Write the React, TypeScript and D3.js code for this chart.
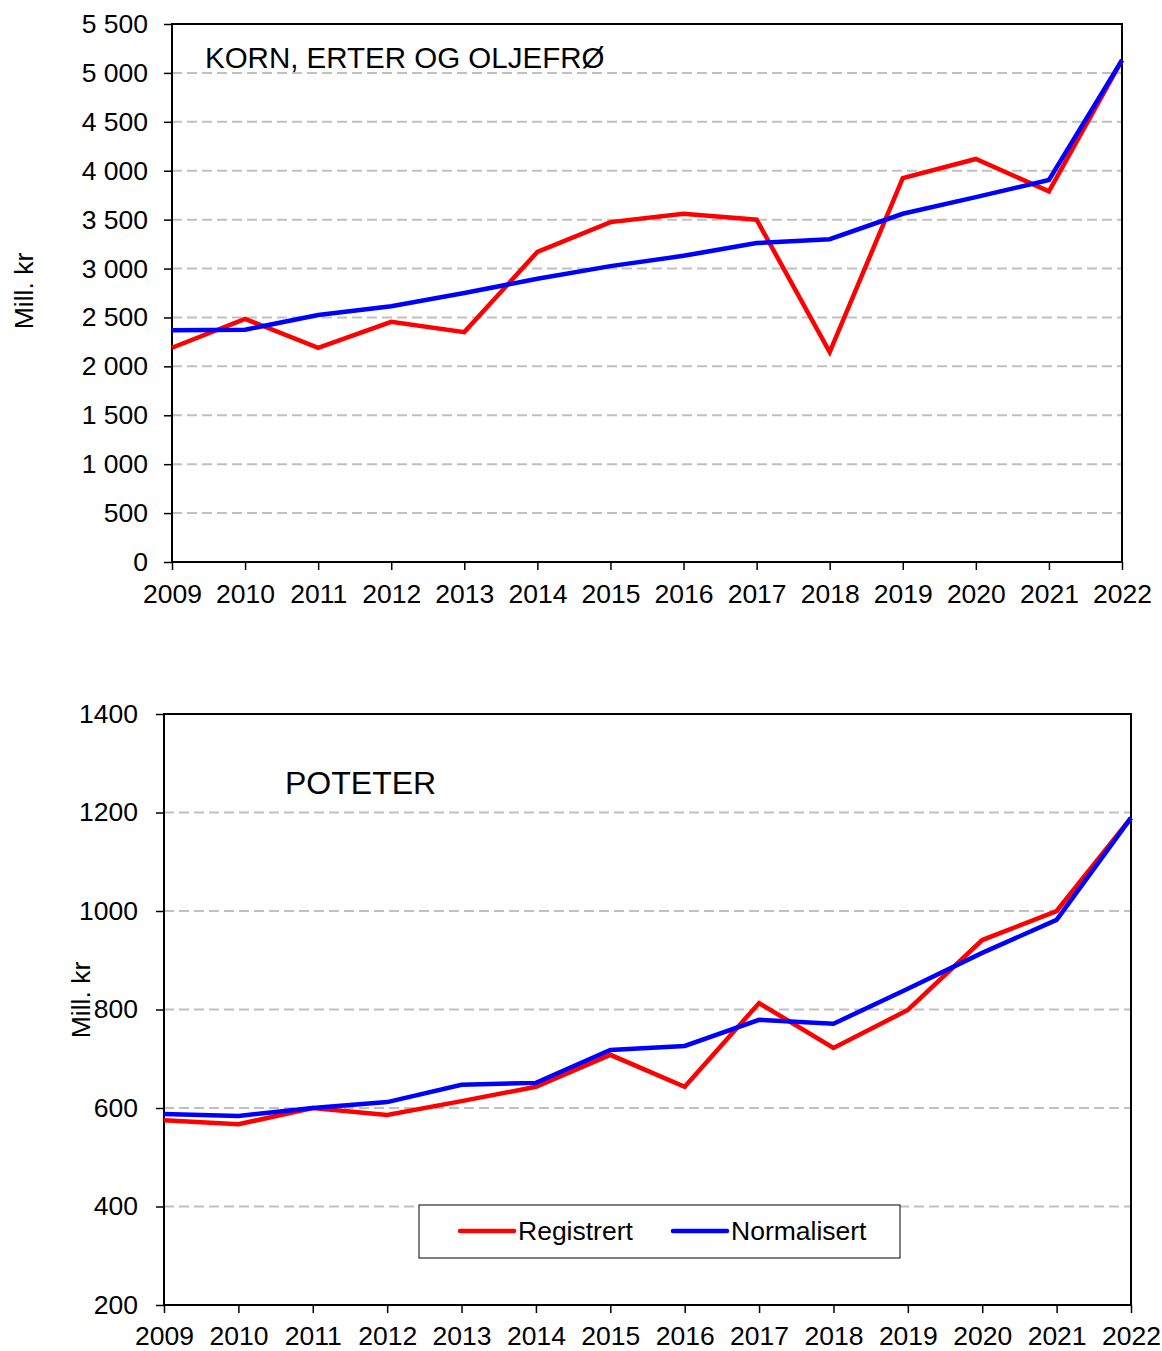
import React, { useEffect, useRef } from 'react';
import * as d3 from 'd3';

const years = [2009, 2010, 2011, 2012, 2013, 2014, 2015, 2016, 2017, 2018, 2019, 2020, 2021, 2022];

// Korn, erter og oljefrø (mill. kr)
const kornRegistrert = [2190, 2485, 2190, 2455, 2350, 3170, 3475, 3560, 3500, 2145, 3925, 4120, 3790, 5130];
const kornNormalisert = [2370, 2375, 2525, 2615, 2750, 2895, 3025, 3130, 3260, 3300, 3560, 3730, 3905, 5130];
const kornTicks = [0, 500, 1000, 1500, 2000, 2500, 3000, 3500, 4000, 4500, 5000, 5500];

// Poteter (mill. kr)
const potetRegistrert = [575, 567, 600, 586, 614, 643, 708, 643, 813, 722, 799, 941, 1000, 1189];
const potetNormalisert = [588, 584, 600, 612, 647, 651, 718, 726, 779, 771, 842, 915, 982, 1189];
const potetTicks = [200, 400, 600, 800, 1000, 1200, 1400];

const seriesNames = ['Registrert', 'Normalisert'];
const seriesColors = ['#ff0000', '#0000ff'];

const FONT = 'Liberation Sans, Arial, sans-serif';
const FS = 26.5;
const spaceFmt = (v: number) => d3.format(',')(v).replace(/,/g, ' ');

const App = () => {
  const svgRef = useRef<SVGSVGElement>(null);

  useEffect(() => {
    const svg = d3.select(svgRef.current);
    svg.selectAll('*').remove();

    const drawPanel = (opts: {
      left: number; right: number; top: number; bottom: number;
      ticks: number[]; fmt: (v: number) => string; yPad: number; xPad: number;
      reg: number[]; norm: number[];
      title: string; titleX: number; titleY: number; titleSize: number;
      ylabelX: number; ylabelY: number; legend: boolean;
    }) => {
      const x = d3.scaleLinear().domain([years[0], years[years.length - 1]]).range([opts.left, opts.right]);
      const y = d3.scaleLinear().domain([opts.ticks[0], opts.ticks[opts.ticks.length - 1]]).range([opts.bottom, opts.top]);
      const g = svg.append('g');

      // gridlines
      g.selectAll('.grid')
        .data(opts.ticks.slice(1, -1))
        .join('line')
        .attr('x1', opts.left).attr('x2', opts.right)
        .attr('y1', d => y(d)).attr('y2', d => y(d))
        .attr('stroke', '#c0c0c0').attr('stroke-width', 2)
        .attr('stroke-dasharray', '10,5');

      // frame
      g.append('rect')
        .attr('x', opts.left).attr('y', opts.top)
        .attr('width', opts.right - opts.left).attr('height', opts.bottom - opts.top)
        .attr('fill', 'none').attr('stroke', '#000').attr('stroke-width', 2);

      // y axis
      const yAxis = g.append('g')
        .attr('transform', `translate(${opts.left},0)`)
        .call(d3.axisLeft(y).tickValues(opts.ticks).tickFormat(d => opts.fmt(d as number)).tickSize(8).tickPadding(opts.yPad));
      yAxis.select('.domain').remove();
      yAxis.selectAll('line').attr('stroke', '#000').attr('stroke-width', 1.5);
      yAxis.selectAll('text').attr('font-family', FONT).attr('font-size', FS).attr('fill', '#000');

      // x axis
      const xAxis = g.append('g')
        .attr('transform', `translate(0,${opts.bottom})`)
        .call(d3.axisBottom(x).tickValues(years).tickFormat(d3.format('d')).tickSize(8).tickPadding(opts.xPad));
      xAxis.select('.domain').remove();
      xAxis.selectAll('line').attr('stroke', '#000').attr('stroke-width', 1.5);
      xAxis.selectAll('text').attr('font-family', FONT).attr('font-size', FS).attr('fill', '#000');

      // y label
      g.append('text')
        .attr('transform', `translate(${opts.ylabelX},${opts.ylabelY}) rotate(-90)`)
        .attr('text-anchor', 'middle')
        .attr('font-family', FONT).attr('font-size', FS)
        .text('Mill. kr');

      // title
      g.append('text')
        .attr('x', opts.titleX).attr('y', opts.titleY)
        .attr('font-family', FONT).attr('font-size', opts.titleSize)
        .text(opts.title);

      const line = d3.line<number>()
        .x((_, i) => x(years[i]))
        .y(d => y(d));

      [opts.reg, opts.norm].forEach((vals, i) => {
        g.append('path')
          .datum(vals)
          .attr('d', line)
          .attr('fill', 'none')
          .attr('stroke', seriesColors[i])
          .attr('stroke-width', 4.5)
          .attr('stroke-linejoin', 'miter');
      });

      if (opts.legend) {
        const lg = g.append('g');
        lg.append('rect')
          .attr('x', 419).attr('y', 1205).attr('width', 481).attr('height', 53)
          .attr('fill', '#fff').attr('stroke', '#000').attr('stroke-width', 1);
        const items = [460, 673];
        seriesNames.forEach((name, i) => {
          lg.append('line')
            .attr('x1', items[i]).attr('x2', items[i] + 54)
            .attr('y1', 1231).attr('y2', 1231)
            .attr('stroke', seriesColors[i]).attr('stroke-width', 4.5).attr('stroke-linecap', 'round');
          lg.append('text')
            .attr('x', items[i] + 58).attr('y', 1240)
            .attr('font-family', FONT).attr('font-size', FS)
            .text(name);
        });
      }
    };

    drawPanel({
      left: 172, right: 1122, top: 24, bottom: 562,
      ticks: kornTicks, fmt: spaceFmt, yPad: 16, xPad: 14,
      reg: kornRegistrert, norm: kornNormalisert,
      title: 'KORN, ERTER OG OLJEFRØ', titleX: 205, titleY: 68, titleSize: 29.5,
      ylabelX: 33, ylabelY: 291, legend: false,
    });

    drawPanel({
      left: 164, right: 1131, top: 714, bottom: 1305,
      ticks: potetTicks, fmt: d3.format('d'), yPad: 18, xPad: 13,
      reg: potetRegistrert, norm: potetNormalisert,
      title: 'POTETER', titleX: 285, titleY: 794, titleSize: 32,
      ylabelX: 90, ylabelY: 1000, legend: true,
    });
  }, []);

  return (
    <svg
      ref={svgRef}
      width={1162}
      height={1351}
      style={{ position: 'absolute', left: 0, top: 0, background: '#fff' }}
    />
  );
};

export default App;
